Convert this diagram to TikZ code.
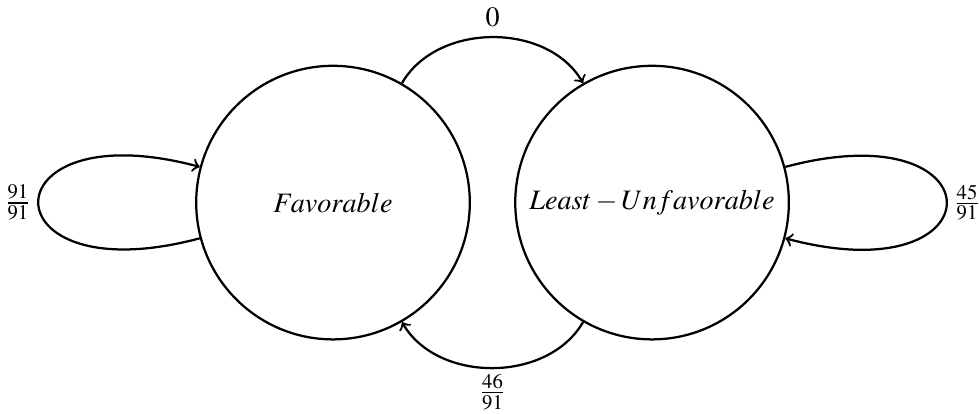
\documentclass[tikz,border=0pt]{standalone}
\usepackage{mathptmx}
\usetikzlibrary{positioning}

\begin{document}
\begin{tikzpicture}[
    state/.style={circle, draw=black, thick,
                minimum size=3.42cm, inner sep=0pt},
    arrow/.style={->, thick},
    node distance=0.54cm
]
\useasboundingbox (0,0) rectangle (12.2375,5.1625);

%% STATES
\node[state] (fav) at (4.1625,2.63) {$Favorable$};
\node[state, right=of fav] (luf) {$Least-Unfavorable$};

%% TRANSITIONS
\draw[arrow] (fav) to[loop left] node[left, inner sep=2pt] {$\frac{91}{91}$} (fav);
\draw[arrow] (fav) to[bend left=60] node[above] {$0$} (luf);
\draw[arrow] (luf) to[bend left=60] node[below, inner sep=2pt] {$\frac{46}{91}$} (fav);
\draw[arrow] (luf) to[loop right] node[right, inner sep=2pt] {$\frac{45}{91}$} (luf);

\end{tikzpicture}
\end{document}
